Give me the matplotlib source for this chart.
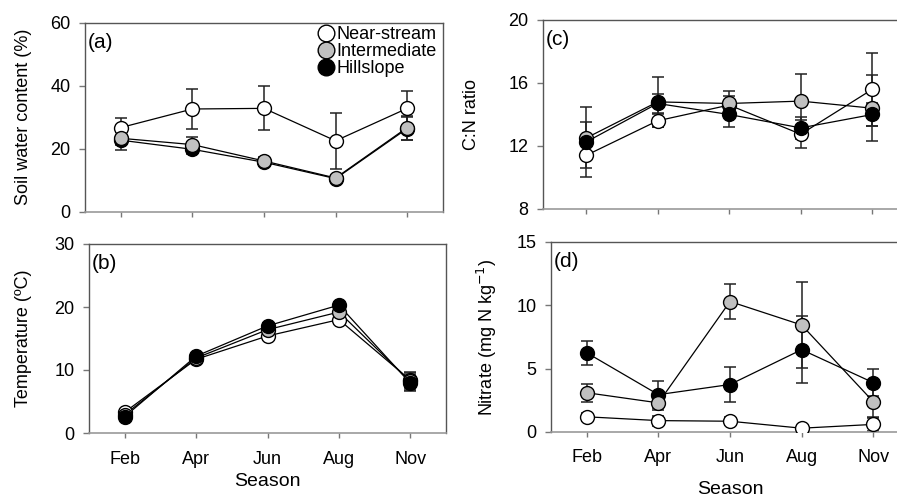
import matplotlib
matplotlib.use("Agg")
import matplotlib.pyplot as plt
import numpy as np

plt.rcParams["font.family"] = ["Liberation Sans", "DejaVu Sans"]

months = ["Feb", "Apr", "Jun", "Aug", "Nov"]
sites = ["Near-stream", "Intermediate", "Hillslope"]
face_colors = ["white", "#c0c0c0", "black"]

# (a) soil water content (%)
swc_mean = [
    [26.8, 32.7, 32.9, 22.6, 32.9],
    [23.4, 21.4, 16.2, 10.8, 26.8],
    [22.8, 19.9, 15.8, 10.6, 26.5],
]
swc_err = [
    [3.0, 6.2, 7.0, 8.8, 5.5],
    [2.0, 2.5, 1.2, 1.0, 3.8],
    [3.0, 1.5, 1.0, 1.0, 3.5],
]

# (b) temperature (ºC)
temp_mean = [
    [3.3, 11.7, 15.4, 18.0, 8.4],
    [2.9, 11.9, 16.4, 19.2, 8.2],
    [2.6, 12.2, 17.0, 20.3, 7.9],
]
temp_err = [
    [0.4, 0.4, 0.5, 0.5, 1.3],
    [0.4, 0.4, 0.5, 0.5, 1.3],
    [0.4, 0.4, 0.5, 0.5, 1.3],
]

# (c) C:N ratio
cn_mean = [
    [11.4, 13.6, 14.6, 12.75, 15.6],
    [12.5, 14.8, 14.7, 14.85, 14.4],
    [12.25, 14.7, 14.0, 13.15, 14.0],
]
cn_err = [
    [0.8, 0.4, 0.6, 0.9, 2.3],
    [1.0, 1.6, 0.8, 1.7, 2.1],
    [2.25, 0.6, 0.8, 0.7, 0.7],
]

# (d) nitrate (mg N kg-1)
no3_mean = [
    [1.2, 0.9, 0.85, 0.3, 0.6],
    [3.1, 2.3, 10.3, 8.45, 2.4],
    [6.25, 2.95, 3.75, 6.5, 3.9],
]
no3_err = [
    [0.3, 0.4, 0.3, 0.2, 0.5],
    [0.7, 0.6, 1.4, 3.4, 1.2],
    [0.95, 1.05, 1.4, 2.65, 1.05],
]

W, H = 897, 500


def px_axes(fig, left, right, top, bottom):
    return fig.add_axes([left / W, 1 - bottom / H, (right - left) / W, (bottom - top) / H])


def draw_panel(ax, means, errs, ylim, yticks, tag, xlim, show_xlabels,
               order=(0, 2, 1), right_spine=True):
    x = np.arange(len(months))
    for i in range(len(sites)):
        ax.errorbar(x, means[i], yerr=errs[i], fmt="none", ecolor="#222222",
                    elinewidth=1.1, capsize=4.3, capthick=1.1, zorder=2)
    for i in range(len(sites)):
        ax.plot(x, means[i], "-", color="black", lw=0.9, zorder=3)
    for k, i in enumerate(order):
        ax.plot(x, means[i], "o", ms=10, mfc=face_colors[i], mec="black",
                mew=1.0, zorder=4 + k)
    ax.set_xlim(*xlim)
    ax.set_ylim(*ylim)
    ax.set_yticks(yticks)
    ax.set_xticks(x)
    if show_xlabels:
        ax.set_xticklabels(months)
    else:
        ax.set_xticklabels([])
    ax.tick_params(axis="x", direction="out", length=3.6, width=1, color="#777777",
                   labelsize=13, pad=9)
    ax.tick_params(axis="y", direction="out", length=4.3, width=1, color="#777777",
                   labelsize=13, pad=6)
    for s in ["top", "left", "right"]:
        ax.spines[s].set_color("#555555")
        ax.spines[s].set_linewidth(1)
    ax.spines["bottom"].set_color("#999999")
    ax.spines["bottom"].set_linewidth(1.2)
    if not right_spine:
        ax.spines["right"].set_visible(False)
    ax.text(3 / 358, 1 - 10 / 189, tag, transform=ax.transAxes, fontsize=15,
            va="top", ha="left")


fig = plt.figure(figsize=(W / 100, H / 100), dpi=100)

ax_a = px_axes(fig, 85, 443, 23, 212)
ax_b = px_axes(fig, 89, 446, 244, 433)
ax_c = px_axes(fig, 543, 901, 20, 209)
ax_d = px_axes(fig, 551, 909, 242, 432)

draw_panel(ax_a, swc_mean, swc_err, (0, 60), [0, 20, 40, 60], "(a)",
           (-0.5, 4.5), False, order=(0, 2, 1))
draw_panel(ax_b, temp_mean, temp_err, (0, 30), [0, 10, 20, 30], "(b)",
           (-0.5, 4.5), True, order=(0, 1, 2))
draw_panel(ax_c, cn_mean, cn_err, (8, 20), [8, 12, 16, 20], "(c)",
           (-0.6, 4.4), False, order=(0, 1, 2), right_spine=False)
draw_panel(ax_d, no3_mean, no3_err, (0, 15), [0, 5, 10, 15], "(d)",
           (-0.5, 4.5), True, order=(0, 2, 1), right_spine=False)

# axis titles
fig.text(23 / W, 1 - 117 / H, "Soil water content (%)", rotation=90,
         ha="center", va="center", fontsize=13)
fig.text(23 / W, 1 - 338 / H, "Temperature (ºC)", rotation=90,
         ha="center", va="center", fontsize=13)
fig.text(472 / W, 1 - 115 / H, "C:N ratio", rotation=90,
         ha="center", va="center", fontsize=13)
fig.text(487 / W, 1 - 337 / H, "Nitrate (mg N kg$^{-1}$)", rotation=90,
         ha="center", va="center", fontsize=13)
fig.text(267 / W, 1 - 486 / H, "Season", ha="center", va="baseline", fontsize=14)
fig.text(730 / W, 1 - 494 / H, "Season", ha="center", va="baseline", fontsize=14)

# legend in panel (a)
handles = [plt.Line2D([], [], ls="none", marker="o", ms=12, mfc=face_colors[i],
                      mec="black", mew=1.0) for i in range(len(sites))]
ax_a.legend(handles, sites, loc="upper right",
            bbox_to_anchor=((437 - 85) / 358, 1 - 3 / 189), frameon=False,
            fontsize=13, handletextpad=0.1, labelspacing=0.0,
            handlelength=1.0, borderaxespad=0, borderpad=0)

fig.savefig("out.png", dpi=100)
